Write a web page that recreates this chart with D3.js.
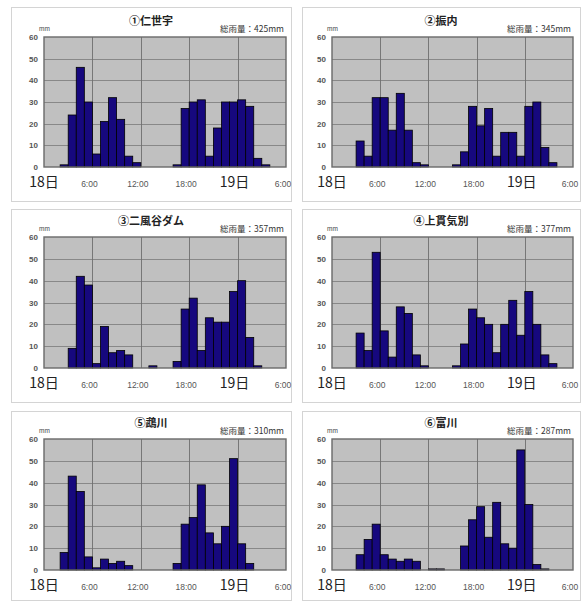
<!DOCTYPE html>
<html>
<head>
<meta charset="utf-8">
<script src="https://cdn.jsdelivr.net/npm/d3@7"></script>
<style>
  body { margin: 0; background: #fff; }
  svg { display: block; }
</style>
</head>
<body>
<script>
// station names and total rainfall (mm)
const stations = ["①仁世宇", "②振内", "③二風谷ダム", "④上貫気別", "⑤鵡川", "⑥富川"];
const totals = [425, 345, 357, 377, 310, 287];

// hourly rainfall (mm), hour 0 = 18日 0:00 ... hour 29 = 19日 5:00
const rain1 = [0, 0, 1, 24, 46, 30, 6, 21, 32, 22, 5, 2, 0, 0, 0, 0, 1, 27, 30, 31, 5, 18, 30, 30, 31, 28, 4, 1, 0, 0];
const rain2 = [0, 0, 0, 12, 5, 32, 32, 17, 34, 17, 2, 1, 0, 0, 0, 1, 7, 28, 19, 27, 5, 16, 16, 5, 28, 30, 9, 2, 0, 0];
const rain3 = [0, 0, 0, 9, 42, 38, 2, 19, 7, 8, 6, 0, 0, 1, 0, 0, 3, 27, 32, 8, 23, 21, 21, 35, 40, 14, 1, 0, 0, 0];
const rain4 = [0, 0, 0, 16, 8, 53, 17, 5, 28, 25, 6, 1, 0, 0, 0, 1, 11, 27, 23, 20, 7, 20, 31, 15, 35, 20, 6, 2, 0, 0];
const rain5 = [0, 0, 8, 43, 36, 6, 1, 5, 3, 4, 2, 0, 0, 0, 0, 0, 3, 21, 24, 39, 17, 12, 20, 51, 12, 3, 0, 0, 0, 0];
const rain6 = [0, 0, 0, 7, 14, 21, 7, 5, 4, 5, 4, 0, 0.5, 0.5, 0, 0, 11, 23, 29, 15, 31, 12, 10, 55, 30, 2.5, 0.5, 0, 0, 0];
const series = [rain1, rain2, rain3, rain4, rain5, rain6];

// axis ticks
const xTicks = [0, 6, 12, 18, 24, 30];
const xTickLabels = ["18日", "6:00", "12:00", "18:00", "19日", "6:00"];
const yTicks = [0, 10, 20, 30, 40, 50, 60];

// layout
const W = 581, H = 601;
const colBox = [[11, 291], [302, 580]];
const colPlot = [[44, 286], [332, 573]];
const rowBox = [[7, 201], [209, 402], [411, 600]];
const rowPlot = [[37, 167], [237, 368], [439, 570]];

const svg = d3.select("body").append("svg")
    .attr("width", W)
    .attr("height", H)
    .attr("font-family", "'Liberation Sans', Arial, sans-serif");

series.forEach((data, i) => {
    const col = i % 2, row = Math.floor(i / 2);
    const [bx0, bx1] = colBox[col];
    const [by0, by1] = rowBox[row];
    const [px0, px1] = colPlot[col];
    const [py0, py1] = rowPlot[row];

    const x = d3.scaleLinear().domain([0, 30]).range([px0, px1]);
    const y = d3.scaleLinear().domain([0, 60]).range([py1, py0]);

    const g = svg.append("g");

    // panel frame
    g.append("rect")
        .attr("x", bx0 + 0.5).attr("y", by0 + 0.5)
        .attr("width", bx1 - bx0).attr("height", by1 - by0)
        .attr("fill", "#fff")
        .attr("stroke", "#d4d4d4");

    // plot background
    g.append("rect")
        .attr("x", px0).attr("y", py0)
        .attr("width", px1 - px0).attr("height", py1 - py0)
        .attr("fill", "#c0c0c0");

    // grid
    g.selectAll(".hgrid")
        .data(yTicks.slice(1, -1))
        .join("line")
        .attr("x1", px0).attr("x2", px1)
        .attr("y1", d => Math.round(y(d)) + 0.5)
        .attr("y2", d => Math.round(y(d)) + 0.5)
        .attr("stroke", "#7a7a7a")
        .attr("stroke-width", 0.8);

    g.selectAll(".vgrid")
        .data(xTicks.slice(1, -1))
        .join("line")
        .attr("y1", py0).attr("y2", py1)
        .attr("x1", d => Math.round(x(d)) + 0.5)
        .attr("x2", d => Math.round(x(d)) + 0.5)
        .attr("stroke", "#6e6e6e")
        .attr("stroke-width", 0.9);

    // bars
    g.selectAll(".bar")
        .data(data.map((v, h) => ({ h, v })).filter(d => d.v > 0))
        .join("rect")
        .attr("x", d => x(d.h))
        .attr("width", d => x(d.h + 1) - x(d.h))
        .attr("y", d => y(d.v))
        .attr("height", d => y(0) - y(d.v))
        .attr("fill", "#16087e")
        .attr("stroke", "#000")
        .attr("stroke-width", 0.8);

    // plot border
    g.append("rect")
        .attr("x", px0).attr("y", py0)
        .attr("width", px1 - px0).attr("height", py1 - py0)
        .attr("fill", "none")
        .attr("stroke", "#6a6a6a")
        .attr("stroke-width", 1.4);

    // y tick labels
    g.selectAll(".ylab")
        .data(yTicks)
        .join("text")
        .attr("x", px0 - 6)
        .attr("y", d => y(d) + 3)
        .attr("text-anchor", "end")
        .attr("font-size", 8)
        .attr("font-weight", 700)
        .attr("fill", "#555")
        .text(d => d);

    // unit
    g.append("text")
        .attr("x", px0 - 5)
        .attr("y", py0 - 6)
        .attr("font-size", 6.5)
        .attr("fill", "#444")
        .text("mm");

    // x tick labels
    g.selectAll(".xlab")
        .data(xTicks)
        .join("text")
        .attr("x", (d, k) => x(d) - (k === 0 ? 0 : 3))
        .attr("y", py1 + 20)
        .attr("text-anchor", "middle")
        .attr("font-family", (d, k) => xTickLabels[k].includes("日") ? "'Noto Sans CJK JP', sans-serif" : null)
        .attr("font-size", (d, k) => xTickLabels[k].includes("日") ? 14 : 8.5)
        .attr("fill", (d, k) => xTickLabels[k].includes("日") ? "#222" : "#555")
        .text((d, k) => xTickLabels[k]);

    // title
    g.append("text")
        .attr("x", (bx0 + bx1) / 2)
        .attr("y", py0 - 12)
        .attr("text-anchor", "middle")
        .attr("font-family", "'Noto Sans CJK JP', sans-serif")
        .attr("font-size", 11)
        .attr("font-weight", 700)
        .attr("fill", "#222")
        .text(stations[i]);

    // total rainfall
    g.append("text")
        .attr("x", px1 - 2)
        .attr("y", py0 - 5)
        .attr("text-anchor", "end")
        .attr("font-family", "'Noto Sans CJK JP', sans-serif")
        .attr("font-size", 8.5)
        .attr("fill", "#333")
        .text(`総雨量：${totals[i]}mm`);
});
</script>
</body>
</html>
